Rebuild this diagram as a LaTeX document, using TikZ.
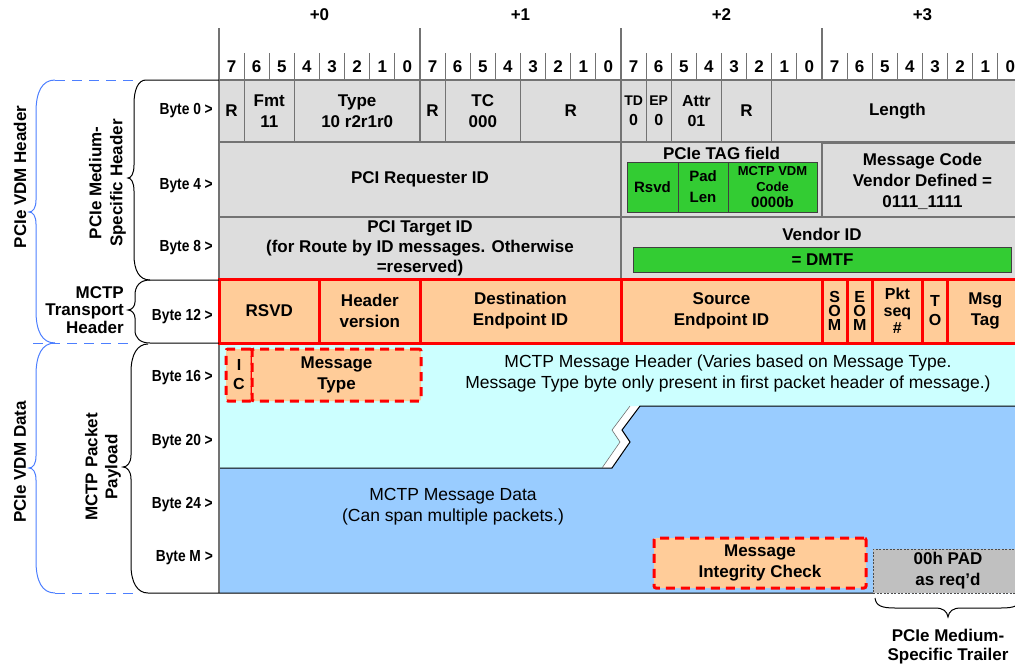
\documentclass[tikz,border=0pt]{standalone}
\usepackage{fontspec}
\setmainfont{Liberation Sans}
\newfontfamily\narrowsf{Liberation Sans}[FakeStretch=0.86]
\definecolor{fieldgray}{HTML}{DDDDDD}
\definecolor{gridgray}{HTML}{737373}
\definecolor{tagreen}{HTML}{33CC33}
\definecolor{peach}{HTML}{FFCC99}
\definecolor{hdrcyan}{HTML}{CCFFFF}
\definecolor{datablue}{HTML}{99CCFF}
\definecolor{padgray}{HTML}{C0C0C0}
\definecolor{vdmblue}{HTML}{4D7FFF}

\begin{document}
\begin{tikzpicture}[
  x=1pt,y=-1pt,
  grid/.style={draw=gridgray,line width=1.2pt},
  fld/.style={font=\bfseries\fontsize{17}{21}\selectfont,align=center,inner sep=0pt},
  gcell/.style={fld,draw=gridgray,fill=fieldgray,line width=1.2pt},
  row0/.style={gcell,minimum height=62pt},
  row4/.style={gcell,minimum height=75pt},
  row8/.style={gcell,minimum height=62pt,font=\bfseries\fontsize{17}{20}\selectfont},
  tcell/.style={fld,draw=red,fill=peach,line width=3pt,minimum height=64pt},
  gbox/.style={fld,draw=black!75,fill=tagreen,line width=1pt},
  dbox/.style={fld,draw=red,fill=peach,line width=3pt,dash pattern=on 9pt off 6pt,rounded corners=2pt},
  bytelbl/.style={font=\narrowsf\bfseries\fontsize{16}{18}\selectfont,anchor=east,inner sep=0pt},
  side/.style={font=\bfseries\fontsize{17}{19}\selectfont,align=center,inner sep=0pt},
  txt/.style={font=\fontsize{17.5}{21}\selectfont,align=center,inner sep=0pt},
  brc/.style={line width=1pt},
  vdm/.style={draw=vdmblue,line width=1pt},
  vdmdash/.style={vdm,dash pattern=on 10pt off 7pt}
]
  \useasboundingbox (0,0) rectangle (1015,667);
  \clip (0,0) rectangle (1015,667);

  \foreach \n in {0,...,3}
    \node[fld] (off\n) at ({319.5+\n*201},15) {+\n};
  \foreach \k in {0,...,31} {
    \pgfmathtruncatemacro\bit{7-mod(\k,8)}
    \node[fld] (bit\k) at ({219+(\k+0.5)*25.125},67) {\bit};
  }
  \foreach \k in {1,...,31}
    \draw[grid] ({219+\k*25.125},53) -- ++(0,27);
  \foreach \k in {0,8,16,24}
    \draw[grid] ({219+\k*25.125},28) -- ++(0,52);

  \node[row0,minimum width=25.1pt] (res0a) at (231.6,111) {R};
  \node[row0,minimum width=50.3pt] (fmt) at (269.3,111) {Fmt\\11};
  \node[row0,minimum width=125.6pt] (type) at (357.2,111) {Type\\10 r2r1r0};
  \node[row0,minimum width=25.1pt] (res0b) at (432.6,111) {R};
  \node[row0,minimum width=75.4pt] (tc) at (482.8,111) {TC\\000};
  \node[row0,minimum width=100.5pt] (res0c) at (570.8,111) {R};
  \node[row0,minimum width=25.1pt,font=\bfseries\fontsize{14}{20}\selectfont] (td) at (633.6,111) {TD\\{\fontsize{16}{20}\selectfont 0}};
  \node[row0,minimum width=25.1pt,font=\bfseries\fontsize{14}{20}\selectfont] (ep) at (658.7,111) {EP\\{\fontsize{16}{20}\selectfont 0}};
  \node[row0,minimum width=50.3pt,font=\bfseries\fontsize{16}{20}\selectfont] (attr) at (696.4,111) {Attr\\01};
  \node[row0,minimum width=50.3pt] (res0d) at (746.6,111) {R};
  \node[row0,minimum width=251.3pt] (length) at (897.4,111) {Length};

  \node[row4,minimum width=402pt] (reqid) at (420,179.5) {PCI Requester ID};
  \node[row4,minimum width=201pt] (tag) at (721.5,179.5) {};
  \node[row4,minimum width=201pt,font=\bfseries\fontsize{17}{21}\selectfont] (msgcode) at (922.5,181) {Message Code\\Vendor Defined =\\0111\_1111};
  \node[fld] (taglbl) at (721.5,153) {PCIe TAG field};
  \node[gbox,minimum width=51pt,minimum height=50pt,font=\bfseries\fontsize{15}{21}\selectfont] (rsvd) at (652.5,187) {Rsvd};
  \node[gbox,minimum width=50pt,minimum height=50pt,font=\bfseries\fontsize{15}{21}\selectfont] (padlen) at (703,187) {Pad\\Len};
  \node[gbox,minimum width=89pt,minimum height=50pt,font=\bfseries\fontsize{13}{16}\selectfont] (vdmcode) at (772.5,187) {MCTP VDM\\Code\\{\fontsize{15}{16}\selectfont 0000b}};

  \node[row8,minimum width=402pt] (tgtid) at (420,248) {PCI Target ID\\(for Route by ID messages. Otherwise\\=reserved)};
  \node[row8,minimum width=402pt] (vendor) at (822,248) {};
  \node[fld] (vendlbl) at (822,234) {Vendor ID};
  \node[gbox,minimum width=378pt,minimum height=25pt] (dmtf) at (822.5,259.5) {= DMTF};

  \fill[hdrcyan] (219,343) -- (1023,343) -- (1023,406) -- (630,406) -- (612,430) -- (620,442) -- (602,468) -- (219,468) -- cycle;
  \fill[datablue] (219,468) -- (612,468) -- (630,442) -- (622,430) -- (640,406) -- (1023,406) -- (1023,593) -- (219,593) -- cycle;
  \draw[line width=1pt] (219,468) -- (612,468) -- (630,442) -- (622,430) -- (640,406) -- (1023,406);
  \draw[gridgray,line width=.6pt] (602,468) -- (620,442) -- (612,430) -- (630,406);
  \draw[grid] (219,28) -- (219,593);

  \node[tcell,minimum width=100.5pt] (rsvdt) at (269.3,311) {RSVD};
  \node[tcell,minimum width=100.5pt] (hdrver) at (369.8,311) {Header\\version};
  \node[tcell,minimum width=201pt] (dstid) at (520.5,311) {Destination\\Endpoint ID};
  \node[tcell,minimum width=201pt] (srcid) at (721.5,311) {Source\\Endpoint ID};
  \node[tcell,minimum width=25.1pt,font=\bfseries\fontsize{16}{14}\selectfont] (som) at (834.6,311) {S\\O\\M};
  \node[tcell,minimum width=25.1pt,font=\bfseries\fontsize{16}{14}\selectfont] (eom) at (859.7,311) {E\\O\\M};
  \node[tcell,minimum width=50.3pt,font=\bfseries\fontsize{16}{17}\selectfont] (pktseq) at (897.4,311) {Pkt\\seq\\\#};
  \node[tcell,minimum width=25.1pt,font=\bfseries\fontsize{16}{19}\selectfont] (to) at (935.1,311) {T\\O};
  \node[tcell,minimum width=75.4pt] (msgtag) at (985.3,311) {Msg\\Tag};

  \node[dbox,minimum width=26pt,minimum height=52pt,font=\bfseries\fontsize{16}{19}\selectfont] (ic) at (239,375) {I\\C};
  \node[dbox,minimum width=169pt,minimum height=52pt] (msgtype) at (336.5,375) {Message\\Type};
  \node[txt] (hdrtxt) at (728,373.5) {MCTP Message Header (Varies based on Message Type.\\Message Type byte only present in first packet header of message.)};
  \node[txt] (datatxt) at (453,506.5) {MCTP Message Data\\(Can span multiple packets.)};
  \node[dbox,minimum width=212pt,minimum height=50pt] (mic) at (760,563) {Message\\Integrity Check};
  \node[fld,draw=black!70,fill=padgray,dash pattern=on 2pt off 1.5pt,line width=.8pt,minimum width=150pt,minimum height=44pt] (pad) at (948,571) {00h PAD\\as req'd};

  \foreach \t/\y in {0/111,4/186,8/248,12/317,16/378,20/442,24/505,M/558}
    \node[bytelbl] (byte\t) at (213,\y) {Byte \t\ >};

  \node[side,rotate=90] (vdmhdr) at (20,177) {PCIe VDM Header};
  \node[side,rotate=90] (vdmdata) at (20,462) {PCIe VDM Data};
  \node[side,rotate=90,font=\bfseries\fontsize{17}{21}\selectfont] (medhdr) at (107.5,183) {PCIe Medium-\\Specific Header};
  \node[side,align=right,anchor=east,font=\bfseries\fontsize{17}{17.5}\selectfont] (transp) at (124,310) {MCTP\\Transport\\Header};
  \node[side,rotate=90,font=\bfseries\fontsize{17}{20}\selectfont] (payload) at (103,467) {MCTP Packet\\Payload};
  \node[side] (trailer) at (948,646.5) {PCIe Medium-\\Specific Trailer};

  \draw[brc] (219,80) -- (146,80) .. controls (138,80) and (134,90) .. (134,104) -- (134,165) .. controls (134,174) and (131,178) .. (128,178) .. controls (131,178) and (134,182) .. (134,191) -- (134,255) .. controls (134,270) and (139,280) .. (150,280) -- (219,280);
  \draw[brc] (150,280) .. controls (140,280) and (135,286) .. (135,295) -- (135,302) .. controls (135,306) and (132,310) .. (128,310) .. controls (132,310) and (135,314) .. (135,318) -- (135,330) .. controls (135,338) and (140,343) .. (150,343) -- (219,343);
  \draw[brc] (148,344) .. controls (137,344) and (131,355) .. (131,372) -- (131,455) .. controls (131,463) and (127,467) .. (123,467) .. controls (127,467) and (131,471) .. (131,479) -- (131,565) .. controls (131,582) and (137,593) .. (148,593) -- (873,593);
  \draw[brc] (875,598) .. controls (876,606) and (882,608) .. (895,608) -- (935,608) .. controls (943,608) and (947,611) .. (948,617) .. controls (949,611) and (953,608) .. (961,608) -- (1001,608) .. controls (1014,608) and (1020,606) .. (1021,598);

  \draw[vdm] (55,80) .. controls (42,80) and (36,92) .. (36,112) -- (36,200) .. controls (36,208) and (33,212) .. (29,212) .. controls (33,212) and (36,216) .. (36,224) -- (36,311) .. controls (36,331) and (42,343) .. (55,343);
  \draw[vdm] (55,343) .. controls (42,343) and (36,355) .. (36,375) -- (36,456) .. controls (36,464) and (33,468) .. (29,468) .. controls (33,468) and (36,472) .. (36,480) -- (36,561) .. controls (36,581) and (42,593) .. (55,593);
  \draw[vdmdash] (55,80) -- (135,80);
  \draw[vdmdash] (33,343) -- (135,343);
  \draw[vdmdash] (55,593) -- (135,593);
\end{tikzpicture}
\end{document}
